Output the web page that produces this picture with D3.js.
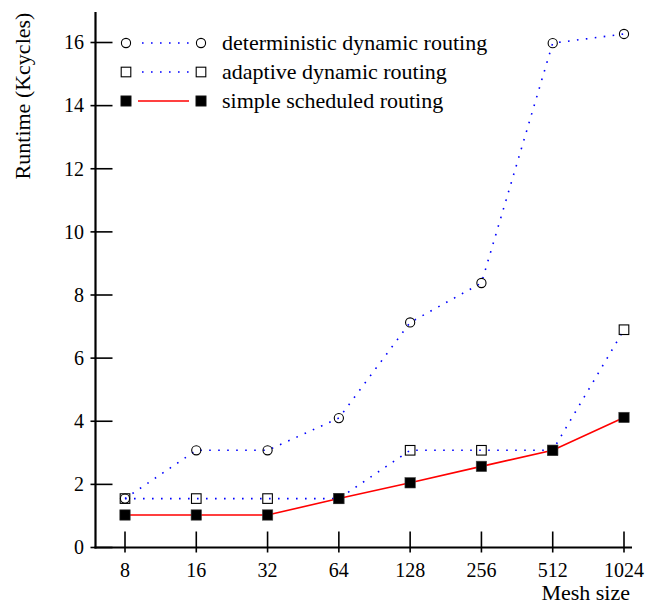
<!DOCTYPE html>
<html><head><meta charset="utf-8">
<script src="https://cdn.jsdelivr.net/npm/d3@7"></script>
<style>
html,body{margin:0;padding:0;background:#fff;}
</style></head>
<body>
<svg id="chart" width="647" height="606" font-family="'Liberation Serif', 'Times New Roman', Times, 'DejaVu Serif', serif"></svg>
<script>
const categories = ["8","16","32","64","128","256","512","1024"];
const deterministic = [1.55, 3.08, 3.08, 4.1, 7.13, 8.38, 15.98, 16.27];
const adaptive = [1.55, 1.55, 1.55, 1.55, 3.08, 3.08, 3.08, 6.9];
const simple = [1.03, 1.03, 1.03, 1.55, 2.05, 2.57, 3.08, 4.12];
const yTicks = [0,2,4,6,8,10,12,14,16];
const seriesNames = ["deterministic dynamic routing","adaptive dynamic routing","simple scheduled routing"];

const svg = d3.select("#chart");
const x = d3.scalePoint().domain(categories).range([125, 624]);
const y = d3.scaleLinear().domain([0, 16]).range([547.5, 42.5]);

svg.append("line").attr("x1",95.5).attr("x2",95.5).attr("y1",12).attr("y2",548.5)
  .attr("stroke","#000").attr("stroke-width",2.2);
svg.append("line").attr("x1",94.5).attr("x2",632).attr("y1",547.5).attr("y2",547.5)
  .attr("stroke","#000").attr("stroke-width",2.2);

const yAxis = svg.append("g");
yTicks.forEach(t=>{
  yAxis.append("line").attr("x1",90.5).attr("x2",112.5).attr("y1",y(t)).attr("y2",y(t))
    .attr("stroke","#000").attr("stroke-width",1.6);
  yAxis.append("text").attr("x",84).attr("y",y(t)).attr("dy","0.34em")
    .attr("text-anchor","end").attr("font-size",20).text(t);
});
categories.forEach(c=>{
  svg.append("line").attr("x1",x(c)).attr("x2",x(c)).attr("y1",531.5).attr("y2",552.5)
    .attr("stroke","#000").attr("stroke-width",1.6);
  svg.append("text").attr("x",x(c)).attr("y",577).attr("text-anchor","middle")
    .attr("font-size",20).text(c);
});

svg.append("text").attr("transform","translate(30,96) rotate(-90)")
  .attr("text-anchor","middle").attr("font-size",22).text("Runtime (Kcycles)");
svg.append("text").attr("x",630).attr("y",600).attr("text-anchor","end")
  .attr("font-size",22).text("Mesh size");

const line = d3.line().x((d,i)=>x(categories[i])).y(d=>y(d));

svg.append("path").datum(deterministic).attr("d",line).attr("fill","none")
  .attr("stroke","#0000ff").attr("stroke-width",1.6).attr("stroke-dasharray","1.6,7.4");
svg.append("path").datum(adaptive).attr("d",line).attr("fill","none")
  .attr("stroke","#0000ff").attr("stroke-width",1.6).attr("stroke-dasharray","1.6,7.4");
svg.append("path").datum(simple).attr("d",line).attr("fill","none")
  .attr("stroke","#ff0000").attr("stroke-width",1.6);

function circle(g,cx,cy){ g.append("circle").attr("cx",cx).attr("cy",cy).attr("r",4.6)
  .attr("fill","none").attr("stroke","#000").attr("stroke-width",1.1); }
function osq(g,cx,cy){ g.append("rect").attr("x",cx-4.8).attr("y",cy-4.8).attr("width",9.6).attr("height",9.6)
  .attr("fill","none").attr("stroke","#000").attr("stroke-width",1.1); }
function fsq(g,cx,cy){ g.append("rect").attr("x",cx-5.2).attr("y",cy-5.2).attr("width",10.4).attr("height",10.4)
  .attr("fill","#000").attr("stroke","#444").attr("stroke-width",0.6); }

const mk = svg.append("g");
deterministic.forEach((v,i)=>circle(mk,x(categories[i]),y(v)));
adaptive.forEach((v,i)=>osq(mk,x(categories[i]),y(v)));
simple.forEach((v,i)=>fsq(mk,x(categories[i]),y(v)));

const lg = svg.append("g");
const lys = [43, 72, 101];
const fns = [circle, osq, fsq];
lys.forEach((ly,i)=>{
  if(i<2){
    lg.append("line").attr("x1",142).attr("x2",194).attr("y1",ly).attr("y2",ly)
      .attr("stroke","#0000ff").attr("stroke-width",1.6).attr("stroke-dasharray","1.6,7.4");
  } else {
    lg.append("line").attr("x1",138).attr("x2",189).attr("y1",ly).attr("y2",ly)
      .attr("stroke","#ff0000").attr("stroke-width",1.6);
  }
  fns[i](lg,126,ly); fns[i](lg,201,ly);
  lg.append("text").attr("x",222).attr("y",ly).attr("dy","0.32em").attr("font-size",22).text(seriesNames[i]);
});
</script>
</body></html>
